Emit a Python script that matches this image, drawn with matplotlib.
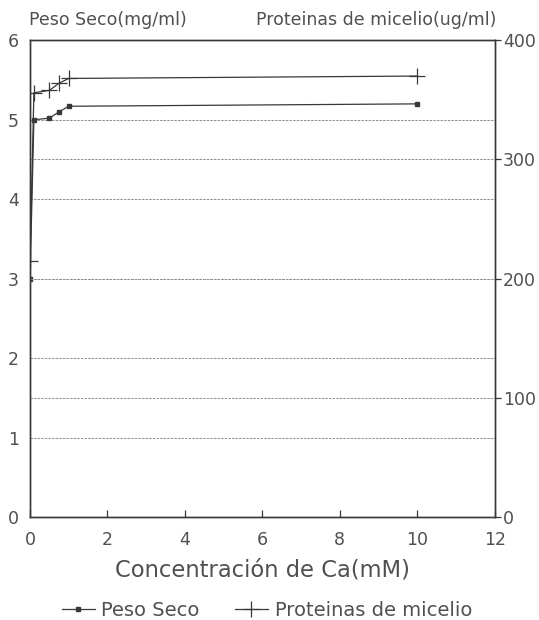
import matplotlib
matplotlib.use('Agg')
from matplotlib import pyplot as plt
from matplotlib.lines import Line2D

# data
ca_peso = [0, 0.1, 0.5, 0.75, 1.0, 10]
peso_seco = [3.0, 5.0, 5.02, 5.1, 5.17, 5.2]

ca_prot = [0, 0.1, 0.5, 0.75, 1.0, 10]
proteinas = [215, 356, 358, 364, 368, 370]

x_ticks = [0, 2, 4, 6, 8, 10, 12]
left_ticks = [0, 1, 2, 3, 4, 5, 6]
right_ticks = [0, 100, 200, 300, 400]

text_color = '#505050'
line_color = '#383838'
grid_color = '#8f8f8f'


def build_chart():
    plt.rcParams['font.family'] = ['DejaVu Sans']
    fig = plt.figure(figsize=(5.39, 6.2), dpi=100)
    ax = fig.add_axes([0.0557, 0.166, 0.862, 0.769])
    ax2 = ax.twinx()

    ax.set_xlim(0, 12)
    ax.set_ylim(0, 6)
    ax2.set_ylim(0, 400)

    # grid lines from both axes
    for y in left_ticks[1:-1]:
        ax.axhline(y, color=grid_color, lw=0.7, ls=(0, (2.5, 1.2)), zorder=1)
    for y in right_ticks[1:-1]:
        ax2.axhline(y, color=grid_color, lw=0.7, ls=(0, (2.5, 1.2)), zorder=1)

    ax.plot(ca_peso, peso_seco, color=line_color, lw=0.9, marker='s',
            markersize=2.6, zorder=3)
    ax2.plot(ca_prot, proteinas, color=line_color, lw=0.9, marker='+',
             markersize=11, markeredgewidth=0.9, zorder=3)

    ax.set_xticks(x_ticks)
    ax.set_yticks(left_ticks)
    ax2.set_yticks(right_ticks)
    ax.tick_params(axis='x', direction='in', length=5, width=0.9, pad=10,
                   labelsize=12.5, colors=line_color, labelcolor=text_color)
    ax.tick_params(axis='y', length=0, pad=8, labelsize=12.5,
                   labelcolor=text_color)
    ax2.tick_params(axis='y', direction='out', length=4, width=0.9, pad=2,
                    labelsize=12.5, colors=line_color, labelcolor=text_color)

    for a in (ax, ax2):
        for sp in a.spines.values():
            sp.set_color(line_color)
            sp.set_linewidth(1.0)

    ax.set_xlabel('Concentración de Ca(mM)', fontsize=16.3, color=text_color,
                  labelpad=7)

    fig.text(0.054, 0.968, 'Peso Seco(mg/ml)', fontsize=12.5,
             color=text_color, ha='left', va='center')
    fig.text(0.921, 0.968, 'Proteinas de micelio(ug/ml)', fontsize=12.5,
             color=text_color, ha='right', va='center')

    handles = [
        Line2D([], [], color=line_color, lw=0.9, marker='s', markersize=2.6),
        Line2D([], [], color=line_color, lw=0.9, marker='+', markersize=11,
               markeredgewidth=0.9),
    ]
    leg = fig.legend(handles, ['Peso Seco', 'Proteinas de micelio'],
                     loc='center', bbox_to_anchor=(0.495, 0.016), ncol=2,
                     frameon=False, fontsize=14, handlelength=1.7,
                     handletextpad=0.35, columnspacing=1.8)
    for t in leg.get_texts():
        t.set_color(text_color)

    plt.savefig('out.png', dpi=100)


if __name__ == '__main__':
    build_chart()
